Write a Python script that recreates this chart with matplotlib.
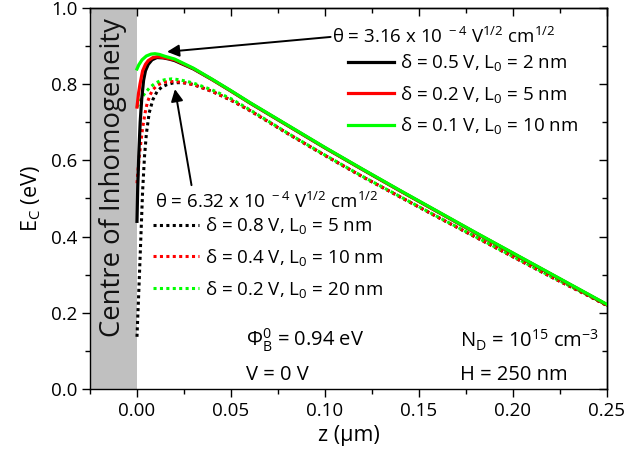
import matplotlib
matplotlib.use("Agg")
import matplotlib.pyplot as plt
from matplotlib.lines import Line2D

plt.rcParams['font.family'] = ['Open Sans', 'DejaVu Sans']
plt.rcParams['mathtext.fontset'] = 'custom'
plt.rcParams['mathtext.rm'] = 'Open Sans'
plt.rcParams['mathtext.it'] = 'Open Sans'
plt.rcParams['mathtext.bf'] = 'Open Sans:bold'

# ---------------- data ----------------
# solid curves, theta = 3.16e-4
x_black_solid = [0, 0.0004, 0.001, 0.0017, 0.0025, 0.0035, 0.0045, 0.006, 0.008, 0.0106, 0.014, 0.017,
                 0.02, 0.03, 0.04, 0.05, 0.06, 0.08, 0.10, 0.12, 0.14, 0.16, 0.18, 0.20, 0.22, 0.24, 0.25]
y_black_solid = [0.44, 0.53, 0.62, 0.70, 0.76, 0.81, 0.835, 0.852, 0.864, 0.870, 0.869, 0.866,
                 0.862, 0.840, 0.812, 0.782, 0.751, 0.692, 0.633, 0.576, 0.520, 0.465, 0.410, 0.356, 0.302, 0.248, 0.221]

x_red_solid = [0, 0.0008, 0.0016, 0.003, 0.0045, 0.006, 0.0085, 0.011, 0.014, 0.017,
               0.02, 0.03, 0.04, 0.05, 0.06, 0.08, 0.10, 0.12, 0.14, 0.16, 0.18, 0.20, 0.22, 0.24, 0.25]
y_red_solid = [0.74, 0.775, 0.80, 0.835, 0.852, 0.862, 0.870, 0.872, 0.870, 0.867,
               0.864, 0.841, 0.812, 0.782, 0.751, 0.692, 0.633, 0.576, 0.520, 0.465, 0.410, 0.356, 0.302, 0.248, 0.221]

x_green_solid = [0, 0.001, 0.0027, 0.005, 0.0075, 0.0096, 0.012, 0.015,
                 0.02, 0.03, 0.04, 0.05, 0.06, 0.08, 0.10, 0.12, 0.14, 0.16, 0.18, 0.20, 0.22, 0.24, 0.25]
y_green_solid = [0.84, 0.851, 0.864, 0.874, 0.879, 0.880, 0.878, 0.873,
                 0.866, 0.842, 0.813, 0.783, 0.752, 0.693, 0.634, 0.577, 0.521, 0.466, 0.411, 0.357, 0.303, 0.249, 0.222]

# dotted curves, theta = 6.32e-4
x_black_dot = [0, 0.001, 0.002, 0.003, 0.004, 0.005, 0.0065, 0.0085, 0.0106, 0.013, 0.016, 0.019, 0.022, 0.026,
               0.03, 0.04, 0.05, 0.06, 0.08, 0.10, 0.12, 0.14, 0.16, 0.18, 0.20, 0.22, 0.24, 0.25]
y_black_dot = [0.137, 0.26, 0.39, 0.52, 0.61, 0.67, 0.725, 0.76, 0.780, 0.792, 0.799, 0.803, 0.804, 0.803,
               0.799, 0.781, 0.758, 0.731, 0.671, 0.613, 0.557, 0.504, 0.451, 0.399, 0.347, 0.295, 0.245, 0.219]

x_red_dot = [0, 0.001, 0.002, 0.003, 0.0043, 0.0055, 0.007, 0.0085, 0.011, 0.014, 0.017, 0.02, 0.024,
             0.03, 0.04, 0.05, 0.06, 0.08, 0.10, 0.12, 0.14, 0.16, 0.18, 0.20, 0.22, 0.24, 0.25]
y_red_dot = [0.54, 0.60, 0.645, 0.685, 0.724, 0.752, 0.772, 0.786, 0.798, 0.805, 0.807, 0.807, 0.805,
             0.799, 0.781, 0.758, 0.731, 0.671, 0.613, 0.557, 0.504, 0.451, 0.399, 0.347, 0.295, 0.245, 0.219]

x_green_dot = [0, 0.0015, 0.003, 0.005, 0.007, 0.0095, 0.012, 0.015, 0.0186, 0.022, 0.026,
               0.03, 0.04, 0.05, 0.06, 0.08, 0.10, 0.12, 0.14, 0.16, 0.18, 0.20, 0.22, 0.24, 0.25]
y_green_dot = [0.74, 0.755, 0.768, 0.781, 0.792, 0.802, 0.808, 0.812, 0.814, 0.812, 0.808,
               0.803, 0.785, 0.762, 0.733, 0.672, 0.614, 0.558, 0.505, 0.452, 0.400, 0.348, 0.296, 0.246, 0.220]

solid_labels = ['δ = 0.5 V, L$_0$ = 2 nm',
                'δ = 0.2 V, L$_0$ = 5 nm',
                'δ = 0.1 V, L$_0$ = 10 nm']
dot_labels = ['δ = 0.8 V, L$_0$ = 5 nm',
              'δ = 0.4 V, L$_0$ = 10 nm',
              'δ = 0.2 V, L$_0$ = 20 nm']
title_solid = 'θ = 3.16 x 10$^{\\ -4}$ V$^{1/2}$ cm$^{1/2}$'
title_dot = 'θ = 6.32 x 10$^{\\ -4}$ V$^{1/2}$ cm$^{1/2}$'

x_ticks = [0.00, 0.05, 0.10, 0.15, 0.20, 0.25]
x_minor = [-0.025, 0.025, 0.075, 0.125, 0.175, 0.225]
y_ticks = [0.0, 0.2, 0.4, 0.6, 0.8, 1.0]
y_minor = [0.1, 0.3, 0.5, 0.7, 0.9]
x_lim = (-0.025, 0.25)
y_lim = (0.0, 1.0)
inhom_span = (-0.025, 0.0)

colors = ['#000000', '#ff0000', '#00ff00']

# ---------------- figure ----------------
fig = plt.figure(figsize=(6.24, 4.59), dpi=100)
ax = fig.add_axes([0.1442, 0.1525, 0.8285, 0.8301])

ax.axvspan(*inhom_span, color='#c0c0c0', lw=0, zorder=0)
ax.text(sum(inhom_span) / 2, 0.555, 'Centre of Inhomogeneity', rotation=90,
        ha='center', va='center', fontsize=19.8, color='#111111')

solid_sets = [(x_black_solid, y_black_solid), (x_red_solid, y_red_solid), (x_green_solid, y_green_solid)]
dot_sets = [(x_black_dot, y_black_dot), (x_red_dot, y_red_dot), (x_green_dot, y_green_dot)]

lw_s = 2.3
lw_d = 2.2
dash = (0, (1, 1.1))
for (xs, ys), c in zip(dot_sets, colors):
    ax.plot(xs, ys, color=c, lw=lw_d, linestyle=dash, dash_capstyle='butt', zorder=2)
for (xs, ys), c in zip(solid_sets, colors):
    ax.plot(xs, ys, color=c, lw=lw_s, zorder=3)

ax.set_xlim(*x_lim)
ax.set_ylim(*y_lim)
ax.set_xticks(x_ticks)
ax.set_xticklabels([f'{v:.2f}' for v in x_ticks])
ax.set_yticks(y_ticks)
ax.set_yticklabels([f'{v:.1f}' for v in y_ticks])
ax.set_xticks(x_minor, minor=True)
ax.set_yticks(y_minor, minor=True)
ax.tick_params(which='major', direction='out', length=6, width=1.0, labelsize=13.5, pad=3)
ax.tick_params(which='minor', direction='out', length=3.5, width=1.0)
for s in ax.spines.values():
    s.set_linewidth(1.0)

# inward ticks on top/right
top = ax.secondary_xaxis('top')
top.set_xticks(x_ticks)
top.set_xticks(x_minor, minor=True)
top.tick_params(which='major', direction='in', length=6, width=1.0, labeltop=False)
top.tick_params(which='minor', direction='in', length=3.5, width=1.0)
top.spines['top'].set_linewidth(1.0)
right = ax.secondary_yaxis('right')
right.set_yticks(y_ticks)
right.set_yticks(y_minor, minor=True)
right.tick_params(which='major', direction='in', length=6, width=1.0, labelright=False)
right.tick_params(which='minor', direction='in', length=3.5, width=1.0)
right.spines['right'].set_linewidth(1.0)

ax.set_xlabel('z (μm)', fontsize=15.5, labelpad=4)
ax.set_ylabel('E$_\\mathrm{C}$ (eV)', fontsize=15.5, labelpad=6)

# legends (titles placed as text)
fs_leg = 13.5
h_s = [Line2D([], [], color=c, lw=lw_s) for c in colors]
h_d = [Line2D([], [], color=c, lw=lw_d, linestyle=dash) for c in colors]
leg1 = ax.legend(h_s, solid_labels, loc='upper left',
                 bbox_to_anchor=(0.4845, 0.903), frameon=False, fontsize=fs_leg,
                 handlelength=2.45, handletextpad=0.32,
                 labelspacing=0.55, borderaxespad=0)
ax.add_artist(leg1)
leg2 = ax.legend(h_d, dot_labels, loc='upper left',
                 bbox_to_anchor=(0.107, 0.476), frameon=False, fontsize=fs_leg,
                 handlelength=2.45, handletextpad=0.32,
                 labelspacing=0.57, borderaxespad=0)
ax.text(0.104, 0.924, title_solid, fontsize=fs_leg, ha='left', va='center')
ax.text(0.0096, 0.492, title_dot, fontsize=fs_leg, ha='left', va='center')

# arrows
ax.annotate('', xy=(0.016, 0.885), xytext=(0.1030, 0.924),
            arrowprops=dict(arrowstyle='-|>', color='black', lw=1.4, mutation_scale=18,
                            shrinkA=0, shrinkB=0))
ax.annotate('', xy=(0.0202, 0.787), xytext=(0.029, 0.535),
            arrowprops=dict(arrowstyle='-|>', color='black', lw=1.4, mutation_scale=18,
                            shrinkA=0, shrinkB=0))

# parameter annotations
fs_par = 14.5
ax.text(0.058, 0.128, 'Φ$_\\mathrm{B}^\\mathrm{0}$ = 0.94 eV', fontsize=fs_par, va='center', ha='left')
ax.text(0.058, 0.038, 'V = 0 V', fontsize=fs_par, va='center', ha='left')
ax.text(0.172, 0.128, 'N$_\\mathrm{D}$ = 10$^{15}$ cm$^{-3}$', fontsize=fs_par, va='center', ha='left')
ax.text(0.172, 0.038, 'H = 250 nm', fontsize=fs_par, va='center', ha='left')

fig.savefig('out.png', dpi=100)
